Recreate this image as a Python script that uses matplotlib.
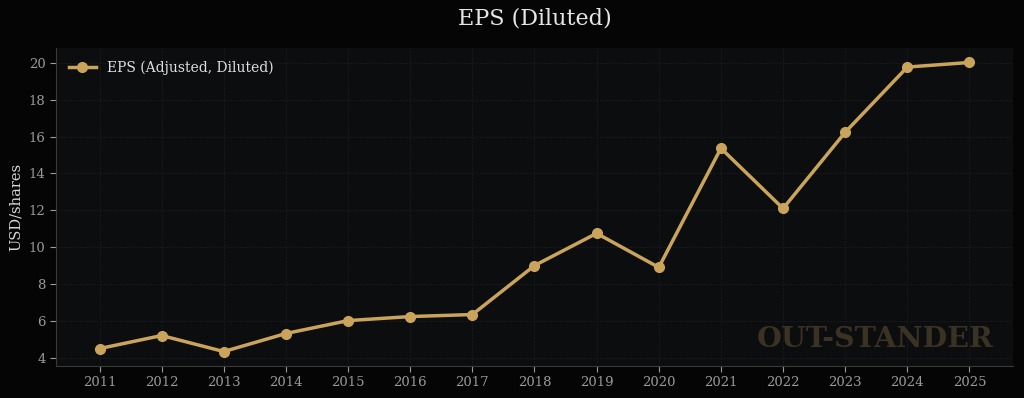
import matplotlib
matplotlib.use("Agg")
import matplotlib.pyplot as plt

years = [2011, 2012, 2013, 2014, 2015, 2016, 2017, 2018, 2019, 2020,
         2021, 2022, 2023, 2024, 2025]
eps = [4.49, 5.20, 4.33, 5.31, 6.01, 6.23, 6.34, 9.00, 10.75, 8.90,
       15.37, 12.10, 16.24, 19.78, 20.03]
yticks = [4, 6, 8, 10, 12, 14, 16, 18, 20]

gold = "#c9a45a"
plt.rcParams['font.family'] = ['DejaVu Serif']

fig = plt.figure(figsize=(10.24, 3.98), dpi=100, facecolor="#050505")
ax = fig.add_axes([56/1024, 1-366/398, (1013-56)/1024, (366-48)/398])
ax.set_facecolor("#0c0d0f")

ax.plot(years, eps, color=gold, lw=2.5, marker="o", ms=7,
        label="EPS (Adjusted, Diluted)")

ax.set_xticks(years)
ax.set_yticks(yticks)
ax.grid(True, color="#16181b", lw=0.8, ls=(0, (2, 1)))
ax.set_axisbelow(True)
ax.tick_params(colors="#9a9a9a", labelsize=9.5, length=4)
for s in ["top", "right"]:
    ax.spines[s].set_visible(False)
for s in ["left", "bottom"]:
    ax.spines[s].set_color("#3a3a3a")

ax.set_ylabel("USD/shares", color="#d8d8d8", fontsize=10.5)
ax.set_title("EPS (Diluted)", color="#e6e6e6", fontsize=16, pad=17)

leg = ax.legend(loc="upper left", frameon=False, fontsize=10)
for t in leg.get_texts():
    t.set_color("#e0e0e0")

ax.text(0.98, 0.04, "OUT-STANDER", transform=ax.transAxes, ha="right",
        va="bottom", fontsize=20.5, fontweight="bold", color="#3a3222")

fig.savefig("out.png", dpi=100, facecolor=fig.get_facecolor())
